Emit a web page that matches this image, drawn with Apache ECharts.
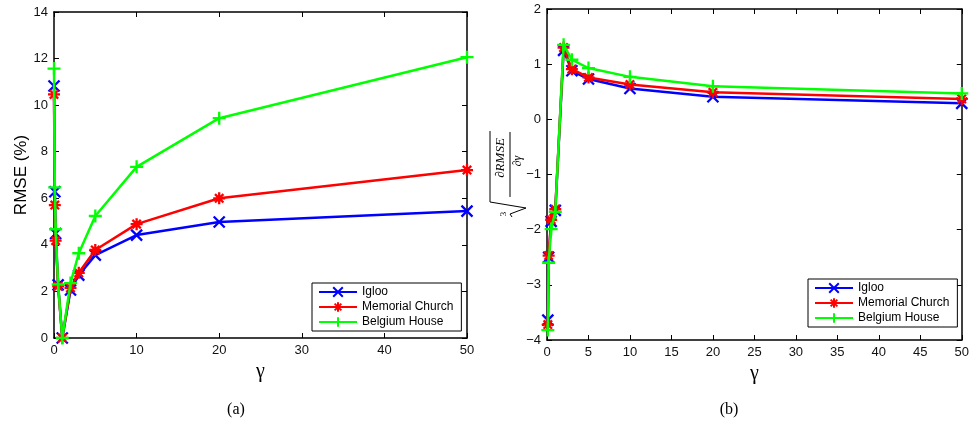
<!DOCTYPE html>
<html>
<head>
<meta charset="utf-8">
<script src="https://cdn.jsdelivr.net/npm/echarts@6/dist/echarts.min.js"></script>
<style>
  html, body { margin: 0; padding: 0; background: #fff; }
  #chart { width: 972px; height: 424px; }
</style>
</head>
<body>
<div id="chart"></div>
<script>
// Gamma values sampled for the RMSE curves (panel a)
const gammaRmse = [0, 0.1, 0.2, 0.5, 1, 2, 3, 5, 10, 20, 50];
const rmseIgloo = [10.82, 6.28, 4.49, 2.28, 0, 2.06, 2.7, 3.56, 4.42, 4.98, 5.45];
const rmseChurch = [10.46, 5.71, 4.18, 2.22, 0, 2.15, 2.8, 3.78, 4.89, 6.0, 7.21];
const rmseHouse = [11.57, 6.47, 4.67, 2.3, 0, 2.36, 3.64, 5.24, 7.35, 9.44, 12.06];

// Gamma values for the cube-root derivative curves (panel b)
const gammaDeriv = [0.1, 0.2, 0.5, 1, 2, 3, 5, 10, 20, 50];
const derivIgloo = [-3.64, -2.5, -1.85, -1.65, 1.25, 0.88, 0.73, 0.56, 0.41, 0.29];
const derivChurch = [-3.72, -2.47, -1.82, -1.63, 1.3, 0.91, 0.76, 0.63, 0.49, 0.37];
const derivHouse = [-3.82, -2.6, -1.99, -1.68, 1.35, 1.08, 0.93, 0.77, 0.6, 0.47];

const seriesNames = ['Igloo', 'Memorial Church', 'Belgium House'];
const seriesColors = ['#0000ff', '#ff0000', '#00ff00'];
const seriesSymbols = [
  'path://M0,0 L10,10 M10,0 L0,10',
  'path://M5,0 L5,10 M0,5 L10,5 M1.5,1.5 L8.5,8.5 M8.5,1.5 L1.5,8.5',
  'path://M5,0 L5,10 M0,5 L10,5'
];
const seriesSymbolSizes = [11, 12, 13];

const xTicksA = { min: 0, max: 50, interval: 10 };
const yTicksA = { min: 0, max: 14, interval: 2 };
const xTicksB = { min: 0, max: 50, interval: 5 };
const yTicksB = { min: -4, max: 2, interval: 1 };

const sansFont = '"Liberation Sans", Arial, sans-serif';
const serifFont = '"Liberation Serif", "Times New Roman", serif';

function pairs(xs, ys) {
  return xs.map((x, i) => [x, ys[i]]);
}

function axisBase(ticks, gridIndex, position, showLabel) {
  return {
    gridIndex: gridIndex,
    type: 'value',
    position: position,
    min: ticks.min,
    max: ticks.max,
    interval: ticks.interval,
    axisLine: { show: true, onZero: false, lineStyle: { color: '#000', width: 1.5 } },
    axisTick: { show: true, inside: true, length: 5, lineStyle: { color: '#000', width: 1 } },
    axisLabel: {
      show: showLabel,
      color: '#111',
      fontSize: 13,
      fontFamily: sansFont,
      margin: 6,
      formatter: v => String(v).replace('-', '\u2212')
    },
    splitLine: { show: false }
  };
}

const gammaName = {
  name: 'γ',
  nameLocation: 'middle',
  nameGap: 22,
  nameTextStyle: { fontFamily: serifFont, fontSize: 20, color: '#000' }
};

const xAxes = [
  Object.assign(axisBase(xTicksA, 0, 'bottom', true), gammaName),
  axisBase(xTicksA, 0, 'top', false),
  Object.assign(axisBase(xTicksB, 1, 'bottom', true), gammaName),
  axisBase(xTicksB, 1, 'top', false)
];

const yAxes = [
  Object.assign(axisBase(yTicksA, 0, 'left', true), {
    name: 'RMSE (%)',
    nameLocation: 'middle',
    nameGap: 22,
    nameTextStyle: { fontFamily: sansFont, fontSize: 17, color: '#000' }
  }),
  axisBase(yTicksA, 0, 'right', false),
  axisBase(yTicksB, 1, 'left', true),
  axisBase(yTicksB, 1, 'right', false)
];

function makeSeries(idx, xs, ys, xAxisIndex, yAxisIndex) {
  const color = seriesColors[idx];
  return {
    name: seriesNames[idx],
    type: 'line',
    xAxisIndex: xAxisIndex,
    yAxisIndex: yAxisIndex,
    data: pairs(xs, ys),
    symbol: seriesSymbols[idx],
    symbolSize: seriesSymbolSizes[idx],
    showAllSymbol: true,
    lineStyle: { color: color, width: 2.5 },
    itemStyle: { color: color, borderColor: color, borderWidth: 2.3 },
    emphasis: { disabled: true },
    z: 2 + idx
  };
}

const series = [
  makeSeries(0, gammaRmse, rmseIgloo, 0, 0),
  makeSeries(1, gammaRmse, rmseChurch, 0, 0),
  makeSeries(2, gammaRmse, rmseHouse, 0, 0),
  makeSeries(0, gammaDeriv, derivIgloo, 2, 2),
  makeSeries(1, gammaDeriv, derivChurch, 2, 2),
  makeSeries(2, gammaDeriv, derivHouse, 2, 2)
];

function legendAt(left, top) {
  return {
    data: seriesNames,
    orient: 'vertical',
    left: left,
    top: top,
    itemWidth: 38,
    itemHeight: 12,
    itemGap: 3,
    padding: [3, 8, 3, 6],
    borderColor: '#000',
    borderWidth: 1,
    backgroundColor: '#fff',
    selectedMode: false,
    textStyle: { fontFamily: sansFont, fontSize: 12, color: '#000' }
  };
}

const chart = echarts.init(document.getElementById('chart'), null, { renderer: 'canvas' });
chart.setOption({
  animation: false,
  backgroundColor: '#fff',
  grid: [
    { left: 54, top: 12, width: 413, height: 326 },
    { left: 547, top: 9, width: 421, height: 331 }
  ],
  xAxis: xAxes,
  yAxis: yAxes,
  legend: [legendAt(312, 283), legendAt(808, 279)],
  series: series,
  graphic: [
    { type: 'text', x: 236, y: 410, style: { text: '(a)', font: '16px ' + serifFont, fill: '#000', align: 'center', verticalAlign: 'middle' } },
    { type: 'text', x: 729, y: 410, style: { text: '(b)', font: '16px ' + serifFont, fill: '#000', align: 'center', verticalAlign: 'middle' } },
    {
      // cube root of the RMSE derivative, written bottom-to-top
      type: 'group',
      x: 506,
      y: 175,
      rotation: Math.PI / 2,
      children: [
        { type: 'text', x: 17, y: -5, style: { text: '∂RMSE', font: 'italic 13px ' + serifFont, fill: '#000', align: 'center', verticalAlign: 'middle' } },
        { type: 'line', shape: { x1: -22, y1: 4, x2: 43, y2: 4 }, style: { stroke: '#000', lineWidth: 1 } },
        { type: 'text', x: 14, y: 12, style: { text: '∂γ', font: 'italic 12px ' + serifFont, fill: '#000', align: 'center', verticalAlign: 'middle' } },
        { type: 'polyline', shape: { points: [[-42, 6], [-39, 4], [-33, 20], [-27, -16], [44, -16]] }, style: { stroke: '#000', lineWidth: 1, fill: null } },
        { type: 'text', x: -39, y: -2, style: { text: '3', font: '9px ' + serifFont, fill: '#000', align: 'center', verticalAlign: 'middle' } }
      ]
    }
  ]
});
</script>
</body>
</html>
